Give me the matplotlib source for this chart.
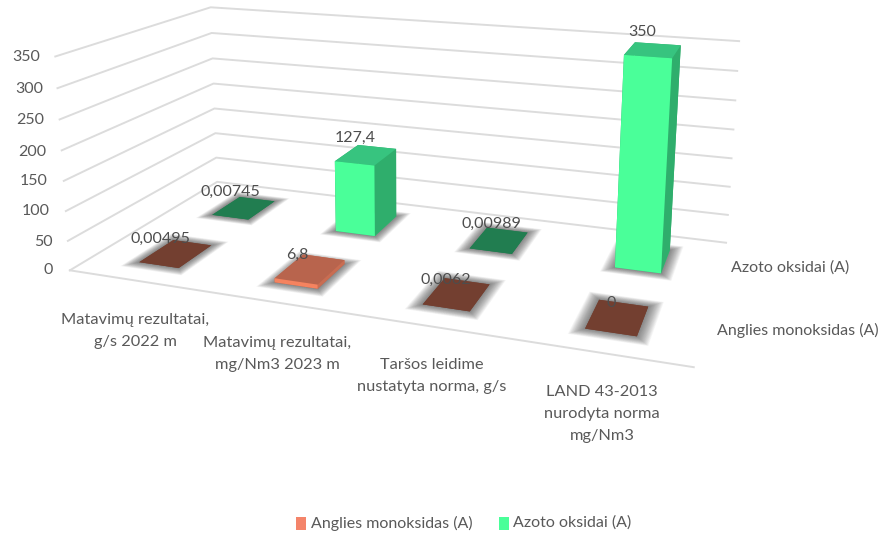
import numpy as np
import matplotlib
matplotlib.use('Agg')
import matplotlib.pyplot as plt
from mpl_toolkits.mplot3d.art3d import Poly3DCollection

plt.rcParams['font.family'] = ['Lato', 'DejaVu Sans']

W, H = 883, 539

categories = ['Matavimų rezultatai,\ng/s 2022 m', 'Matavimų rezultatai,\nmg/Nm3 2023 m',
              'Taršos leidime\nnustatyta norma, g/s', 'LAND 43-2013\nnurodyta norma\nmg/Nm3']
series_names = ['Anglies monoksidas (A)', 'Azoto oksidai (A)']
anglies_values = [0.00495, 6.8, 0.0062, 0]
azoto_values = [0.00745, 127.4, 0.00989, 350]
anglies_labels = ['0,00495', '6,8', '0,0062', '0']
azoto_labels = ['0,00745', '127,4', '0,00989', '350']
z_ticks = [0, 50, 100, 150, 200, 250, 300, 350]

TEXT = '#595959'
GRID = '#dcdcdc'
# (bottom/top colour, front, side) for each series
FACES = [('#b8644d', '#f5835f', '#c96d52'), ('#37c47f', '#4aff99', '#2fae6c')]
FLAT = ['#733f30', '#217d50']
LEGEND = ['#f4846a', '#4aff99']

BAR_X, BAR_Y = 0.30, 0.44


def px(x, y):
    # reference pixel to figure fraction
    return x / W, 1 - y / H


def fit_projection(ax):
    # pinhole matrix fitted to the corners of the reference box
    world = [(0, 0, 0), (4, 0, 0), (4, 2, 0), (0, 2, 0), (0, 2, 350), (4, 2, 350), (0, 0, 350)]
    image = [(70, 270), (694, 367), (726, 243), (217, 182), (211, 7), (739, 41), (55, 57)]
    ax.apply_aspect()
    uv = ax.transData.inverted().transform([(x, H - y) for x, y in image])
    rows, rhs = [], []
    for (x, y, z), (u, v) in zip(world, uv):
        z = z / 350
        rows.append([x, y, z, 1, 0, 0, 0, 0, -u * x, -u * y, -u * z])
        rows.append([0, 0, 0, 0, x, y, z, 1, -v * x, -v * y, -v * z])
        rhs += [u, v]
    p = np.linalg.lstsq(np.array(rows), np.array(rhs), rcond=None)[0]
    p = np.append(p, 1).reshape(3, 4)
    p[:, 2] /= 350
    return np.array([p[0], p[1], [0, 0, 0, -1], p[2]])


fig = plt.figure(figsize=(W / 100, H / 100), dpi=100, facecolor='white')
ax = fig.add_axes([-0.02, -0.35, 1.04, 1.7], projection='3d', computed_zorder=False)
ax.set_axis_off()

# gridlines on the two walls and the front edge of the floor
for z in z_ticks:
    ax.plot([0, 0, 4], [0, 2, 2], [z, z, z], color=GRID, lw=1.4, zorder=1)
ax.plot([0, 4], [0, 0], [0, 0], color=GRID, lw=1.4, zorder=1)

# back row first, so the front row paints over it
for j, values in reversed(list(enumerate([anglies_values, azoto_values]))):
    order = 10 * (2 - j)
    for i, value in enumerate(values):
        xc, yc = i + 0.5, j + 0.5
        # soft floor shadow: stacked translucent rectangles
        for k, margin in enumerate(np.linspace(0.08, 0.0, 24)):
            mx, my = margin, margin * 1.3
            x0, x1 = xc - BAR_X / 2 - mx, xc + BAR_X / 2 + mx
            y0, y1 = yc - BAR_Y / 2 - my, yc + BAR_Y / 2 + my
            verts = [[(x0, y0, 0), (x1, y0, 0), (x1, y1, 0), (x0, y1, 0)]]
            ax.add_collection3d(Poly3DCollection(verts, facecolor='#3c3c3c', alpha=0.035,
                                                 edgecolor='none', zorder=order + k * 0.01))
        top, front, side = FACES[j]
        if value < 0.1:
            top = front = side = FLAT[j]
        # bar3d face order is bottom, top, front, back, left, right
        ax.bar3d(xc - BAR_X / 2, yc - BAR_Y / 2, 0, BAR_X, BAR_Y, value,
                 color=[top, top, front, side, side, side], shade=False, zorder=order + 1)

for z, (x, y) in zip(z_ticks, [(53, 270), (53, 242), (50, 211), (48, 181), (46, 152), (44.5, 120), (43, 89), (40, 57)]):
    fx, fy = px(x, y)
    fig.text(fx, fy, str(z), ha='right', va='center', fontsize=11.5, color=TEXT)

cat_pos = [(135, 331), (277, 354), (432, 376), (602, 414)]
for label, (x, y) in zip(categories, cat_pos):
    fx, fy = px(x, y)
    fig.text(fx, fy, label, ha='center', va='center', fontsize=11.8, color=TEXT, linespacing=1.75)

# series names at the right of the depth axis
for name, (x, y) in zip(series_names, [(717, 330), (731, 268)]):
    fx, fy = px(x, y)
    fig.text(fx, fy, name, ha='left', va='center', fontsize=11.5, color=TEXT)

# data labels
anglies_pos = [(160, 239), (297, 255), (446, 280), (611, 303)]
azoto_pos = [(230, 192), (355, 138), (491, 224), (642, 32)]
for labels, positions in [(anglies_labels, anglies_pos), (azoto_labels, azoto_pos)]:
    for label, (x, y) in zip(labels, positions):
        fx, fy = px(x, y)
        fig.text(fx, fy, label, ha='center', va='center', fontsize=11.5, color='#4d4d4d', zorder=100)

# legend
for name, colour, sx, tx in zip(series_names, LEGEND, [296, 499.5], [311, 513]):
    fx, fy = px(sx, 530)
    fig.patches.append(plt.Rectangle((fx, fy), 9.5 / W, 13 / H, transform=fig.transFigure, color=colour, lw=0))
    fx, fy = px(tx, 523)
    fig.text(fx, fy, name, ha='left', va='center', fontsize=11.5, color=TEXT)

M = fit_projection(ax)
ax.get_proj = lambda: M

fig.savefig('out.png', dpi=100)
